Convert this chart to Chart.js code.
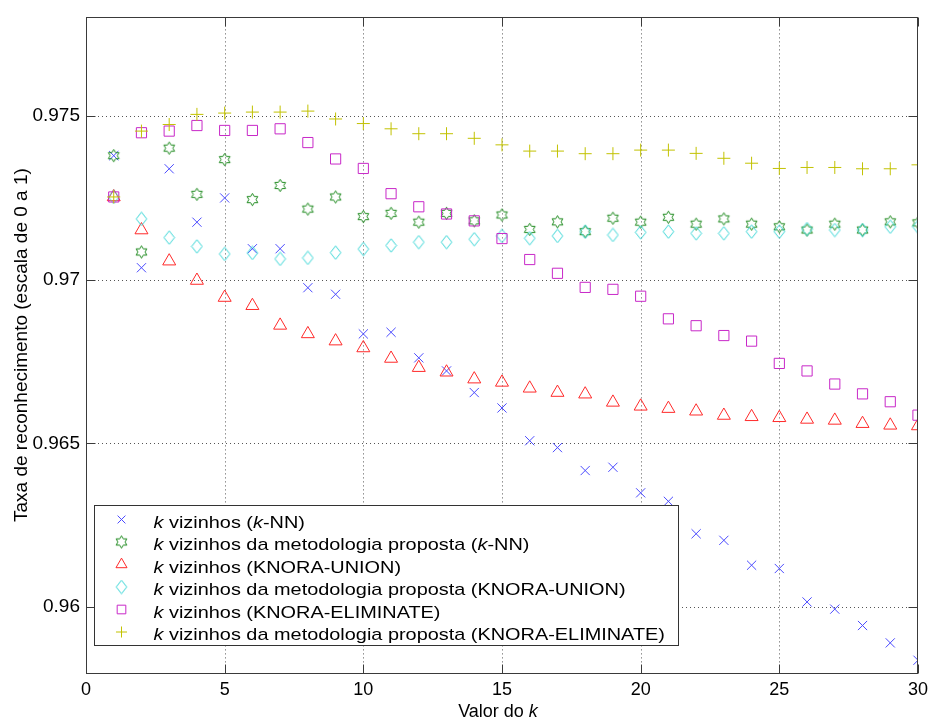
<!DOCTYPE html>
<html><head><meta charset="utf-8">
<script src="https://cdn.jsdelivr.net/npm/chart.js@4.4.1/dist/chart.umd.min.js"></script>
<style>html,body{margin:0;padding:0;background:#fff}#wrap{width:935px;height:728px;position:relative}</style>
</head><body><div id="wrap"><canvas id="c"></canvas></div>
<script>
// ---------- data ----------
const kValues = [1,2,3,4,5,6,7,8,9,10,11,12,13,14,15,16,17,18,19,20,21,22,23,24,25,26,27,28,29,30];
const xTicks = [0,5,10,15,20,25,30];
const yTicks = [0.96,0.965,0.97,0.975];
const yTickLabels = ['0.96','0.965','0.97','0.975'];
const xTitle = 'Valor do k';
const yTitle = 'Taxa de reconhecimento (escala de 0 a 1)';
const seriesLabels = [
  'k vizinhos (k-NN)',
  'k vizinhos da metodologia proposta (k-NN)',
  'k vizinhos (KNORA-UNION)',
  'k vizinhos da metodologia proposta (KNORA-UNION)',
  'k vizinhos (KNORA-ELIMINATE)',
  'k vizinhos da metodologia proposta (KNORA-ELIMINATE)'
];
const knn = [0.97378,0.97036,0.97338,0.97175,0.97249,0.97094,0.97094,0.96975,0.96955,0.96834,0.96839,0.96761,0.96721,0.96655,0.96608,0.96508,0.96487,0.96417,0.96427,0.96349,0.96323,0.96224,0.96204,0.96128,0.96118,0.96016,0.95994,0.95944,0.95891,0.95838];
const propKnn = [0.97378,0.97084,0.97401,0.97260,0.97366,0.97244,0.97287,0.97215,0.97252,0.97192,0.97202,0.97175,0.97202,0.97179,0.97197,0.97153,0.97176,0.97146,0.97187,0.97175,0.97190,0.97169,0.97185,0.97169,0.97161,0.97151,0.97169,0.97151,0.97176,0.97173];
const union = [0.97252,0.97151,0.97056,0.96997,0.96945,0.96920,0.96860,0.96834,0.96812,0.96791,0.96759,0.96731,0.96717,0.96696,0.96686,0.96668,0.96655,0.96650,0.96625,0.96613,0.96606,0.96598,0.96585,0.96581,0.96578,0.96573,0.96570,0.96560,0.96555,0.96553];
const propUnion = [0.97252,0.97185,0.97128,0.97101,0.97078,0.97081,0.97063,0.97066,0.97082,0.97093,0.97104,0.97114,0.97114,0.97123,0.97133,0.97126,0.97133,0.97146,0.97136,0.97144,0.97146,0.97141,0.97141,0.97146,0.97146,0.97154,0.97151,0.97151,0.97161,0.97161];
const elim = [0.97252,0.97448,0.97453,0.97470,0.97455,0.97455,0.97460,0.97418,0.97368,0.97339,0.97262,0.97222,0.97200,0.97179,0.97125,0.97061,0.97019,0.96976,0.96970,0.96949,0.96880,0.96859,0.96829,0.96812,0.96744,0.96721,0.96681,0.96651,0.96627,0.96586];
const propElim = [0.97252,0.97453,0.97473,0.97504,0.97508,0.97511,0.97511,0.97514,0.97490,0.97476,0.97460,0.97445,0.97445,0.97431,0.97411,0.97392,0.97392,0.97384,0.97384,0.97395,0.97395,0.97385,0.97370,0.97355,0.97339,0.97342,0.97342,0.97338,0.97338,0.97350];
const seriesValues = [knn, propKnn, union, propUnion, elim, propElim];

// ---------- marker images ----------
function hexagram(color){
  const c = document.createElement('canvas'); c.width = 15; c.height = 15;
  const g = c.getContext('2d'); g.strokeStyle = color; g.lineWidth = 1;
  g.beginPath();
  for (let i = 0; i < 12; i++){
    const a = -Math.PI/2 + i*Math.PI/6;
    const r = (i % 2 === 0) ? 6.2 : 3.6;
    const px = 7.5 + r*Math.cos(a), py = 7.5 + r*Math.sin(a);
    if (i === 0) g.moveTo(px, py); else g.lineTo(px, py);
  }
  g.closePath(); g.stroke(); return c;
}
function diamond(color){
  const c = document.createElement('canvas'); c.width = 13; c.height = 15;
  const g = c.getContext('2d'); g.strokeStyle = color; g.lineWidth = 1;
  g.beginPath(); g.moveTo(6.5,0.8); g.lineTo(11.8,7.5); g.lineTo(6.5,14.2); g.lineTo(1.2,7.5); g.closePath(); g.stroke();
  return c;
}
const FONT = '"Liberation Sans", Arial, Helvetica, sans-serif';
Chart.defaults.font.family = FONT;
Chart.defaults.color = '#000';

const styles = [
  {color:'#4a4aff', pointStyle:'crossRot', radius:6.5},
  {color:'#1e8a1e', pointStyle:hexagram('#1e8a1e'), radius:7},
  {color:'#ff2a2a', pointStyle:'triangle', radius:7.5},
  {color:'#3ad6d6', pointStyle:diamond('#3ad6d6'), radius:7},
  {color:'#c828c8', pointStyle:'rect', radius:7.2},
  {color:'#c2c200', pointStyle:'cross', radius:6.5}
];

const datasets = seriesValues.map((vals, i) => ({
  label: seriesLabels[i],
  data: kValues.map((k, j) => ({x:k, y:vals[j]})),
  showLine: false,
  pointStyle: styles[i].pointStyle,
  pointRadius: styles[i].radius,
  pointHoverRadius: styles[i].radius,
  pointBorderColor: styles[i].color,
  pointBackgroundColor: 'rgba(0,0,0,0)',
  pointBorderWidth: 1,
  order: 5 - i
}));

// ---------- frame / legend plugin ----------
function drawRich(ctx, text, x, y, size, sx){
  const parts = text.split(/\b(k)\b/);
  ctx.save(); ctx.translate(x, y); ctx.scale(sx, 1);
  let cx = 0;
  parts.forEach((p, idx) => {
    if (!p) return;
    const it = (idx % 2 === 1);
    ctx.font = (it ? 'italic ' : '') + size + 'px ' + FONT;
    ctx.fillText(p, cx, 0);
    cx += ctx.measureText(p).width;
  });
  ctx.restore();
  return cx * sx;
}
function richWidth(ctx, text, size){
  const parts = text.split(/\b(k)\b/); let w = 0;
  parts.forEach((p, idx) => { if (!p) return; ctx.font = (idx%2===1?'italic ':'') + size + 'px ' + FONT; w += ctx.measureText(p).width; });
  return w;
}
const framePlugin = {
  id: 'frame',
  beforeDatasetsDraw(chart){
    const {ctx, chartArea:a, scales:{x, y}} = chart;
    ctx.save(); ctx.strokeStyle = '#555'; ctx.lineWidth = 1; ctx.setLineDash([1,3]);
    xTicks.forEach(v => { if (v === x.min || v === x.max) return; const px = Math.round(x.getPixelForValue(v)) + 0.5;
      ctx.beginPath(); ctx.moveTo(px, a.top); ctx.lineTo(px, a.bottom); ctx.stroke(); });
    yTicks.forEach(v => { const py = Math.round(y.getPixelForValue(v)) + 0.5;
      ctx.beginPath(); ctx.moveTo(a.left, py); ctx.lineTo(a.right, py); ctx.stroke(); });
    ctx.restore();
  },
  afterDatasetsDraw(chart){
    const {ctx, chartArea:a, scales:{x, y}} = chart;
    ctx.save(); ctx.strokeStyle = '#3a3a3a'; ctx.lineWidth = 1;
    const L = Math.round(a.left)+0.5, R = Math.round(a.right)-0.5, T = Math.round(a.top)+0.5, B = Math.round(a.bottom)+0.5;
    ctx.strokeRect(L, T, R-L, B-T);
    const tl = 9;
    ctx.beginPath();
    xTicks.forEach(v => { const px = Math.round(x.getPixelForValue(v)) + 0.5;
      ctx.moveTo(px, B); ctx.lineTo(px, B - tl); ctx.moveTo(px, T); ctx.lineTo(px, T + tl); });
    yTicks.forEach(v => { const py = Math.round(y.getPixelForValue(v)) + 0.5;
      ctx.moveTo(L, py); ctx.lineTo(L + tl, py); ctx.moveTo(R, py); ctx.lineTo(R - tl, py); });
    ctx.stroke(); ctx.restore();
  },
  afterDraw(chart){
    const {ctx} = chart;
    ctx.save();
    // legend box
    const bx = 94.5, by = 505.5, bw = 584, bh = 140;
    ctx.fillStyle = '#fff'; ctx.fillRect(bx, by, bw, bh);
    ctx.strokeStyle = '#333'; ctx.lineWidth = 1; ctx.strokeRect(bx, by, bw, bh);
    ctx.textBaseline = 'alphabetic'; ctx.textAlign = 'left';
    chart.data.datasets.forEach((ds, i) => {
      const base = 527.5 + i*22.5;
      ctx.strokeStyle = ds.pointBorderColor; ctx.fillStyle = 'rgba(0,0,0,0)'; ctx.lineWidth = 1;
      Chart.helpers.drawPoint(ctx, {pointStyle: ds.pointStyle, radius: ds.pointRadius*0.85, rotation: 0, borderWidth: 1}, 121.5, base - 8);
      ctx.fillStyle = '#000';
      drawRich(ctx, ds.label, 153.5, base, 17, 1.17);
    });
    // x title
    const xs = 18; const w = richWidth(ctx, xTitle, xs);
    ctx.fillStyle = '#000';
    drawRich(ctx, xTitle, 498 - w/2, 717, xs, 1);
    // y title
    ctx.translate(26.5, 522); ctx.rotate(-Math.PI/2);
    ctx.font = '19px ' + FONT; ctx.fillText(yTitle, 0, 0);
    ctx.restore();
  }
};

new Chart(document.getElementById('c'), {
  type: 'scatter',
  data: { datasets },
  options: {
    responsive: true, maintainAspectRatio: false, animation: false, devicePixelRatio: 1,
    layout: { padding: { left: 0, right: 10.5, top: 11, bottom: 0 } },
    plugins: { legend: { display: false }, tooltip: { enabled: false } },
    scales: {
      x: {
        type: 'linear', min: 0, max: 30,
        afterBuildTicks: s => { s.ticks = xTicks.map(v => ({value: v})); },
        afterFit: s => { s.height = 55.3; },
        grid: { display: false, drawTicks: false }, border: { display: false },
        ticks: { font: { size: 18 }, color: '#000', padding: 7, maxRotation: 0, autoSkip: false, callback: v => String(v) }
      },
      y: {
        type: 'linear', min: 0.958, max: 0.978,
        afterBuildTicks: s => { s.ticks = yTicks.map(v => ({value: v})); },
        afterFit: s => { s.width = 86; },
        grid: { display: false, drawTicks: false }, border: { display: false },
        ticks: { font: { size: 19 }, color: '#000', padding: 6, autoSkip: false,
          callback: v => { const i = yTicks.findIndex(t => Math.abs(t - v) < 1e-9); return i >= 0 ? yTickLabels[i] : ''; } }
      }
    }
  },
  plugins: [framePlugin]
});
</script></body></html>
